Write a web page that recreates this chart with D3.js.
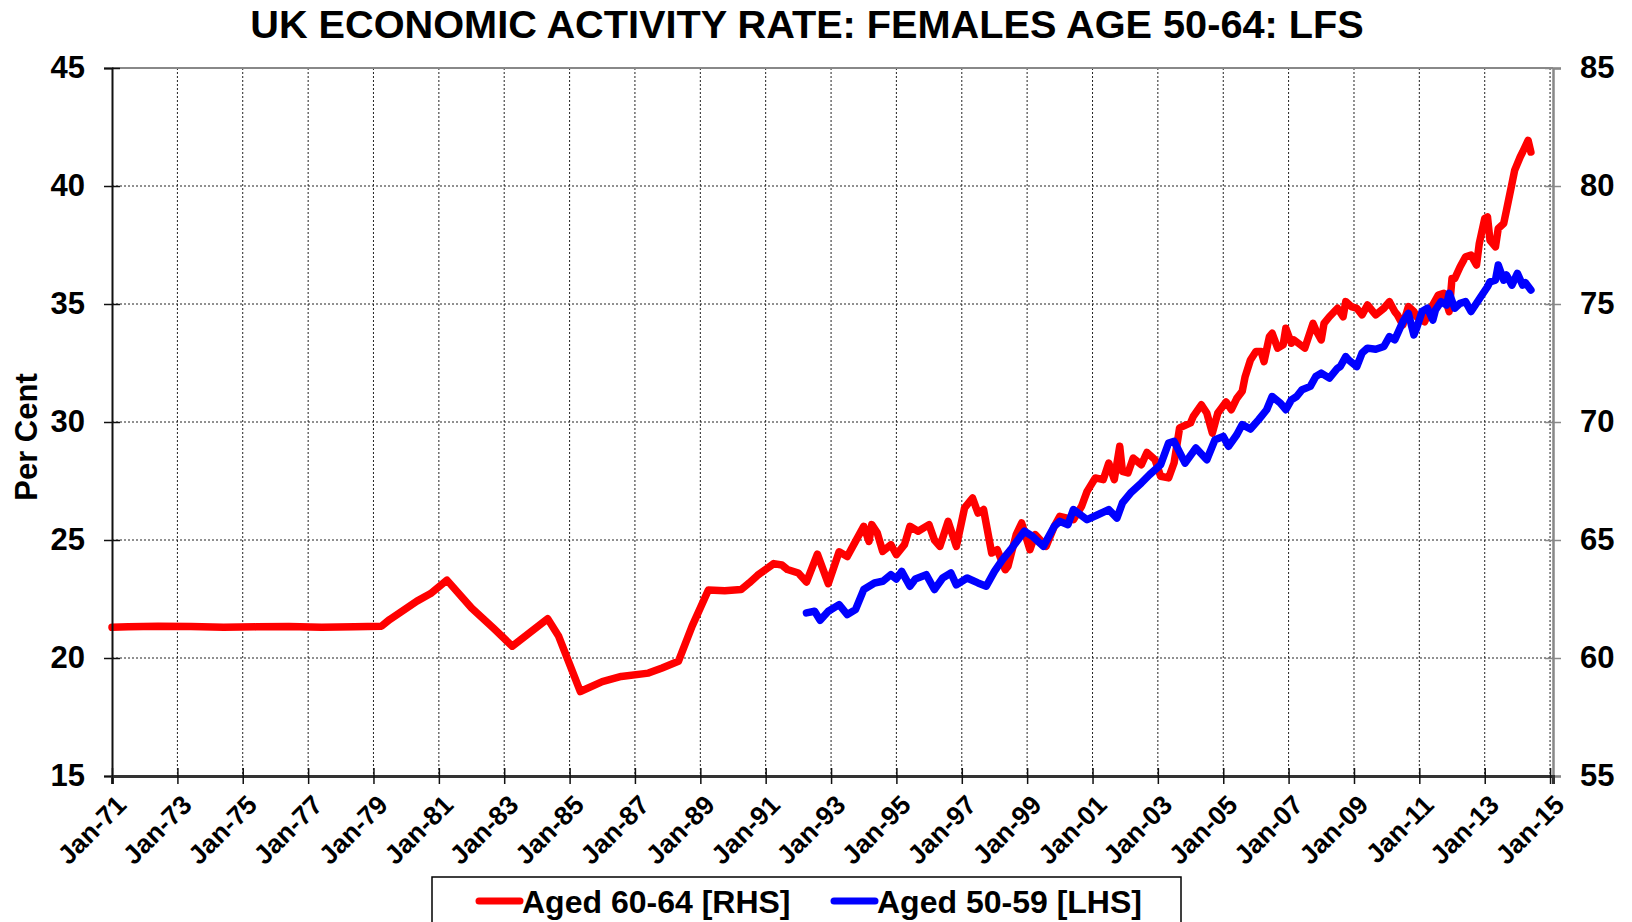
<!DOCTYPE html>
<html>
<head>
<meta charset="utf-8">
<script src="https://cdn.jsdelivr.net/npm/d3@7"></script>
<style>
  body { margin: 0; background: #fff; }
  text { font-family: "Liberation Sans", Arial, sans-serif; font-weight: bold; }
</style>
</head>
<body>
<div id="view"></div>
<script>
// chart data
var xTickYears = [1971,1973,1975,1977,1979,1981,1983,1985,1987,1989,1991,1993,1995,1997,1999,2001,2003,2005,2007,2009,2011,2013,2015];
var leftTicks = [15,20,25,30,35,40,45];
var rightTicks = [55,60,65,70,75,80,85];

// red series, plotted on left scale values
var redDates = ["1971-01","1971-07","1972-06","1973-06","1974-06","1975-06","1976-06","1977-06","1978-06","1979-04","1979-07","1980-05","1980-10","1981-04","1982-01","1982-09","1983-04","1984-05","1984-09","1985-05","1986-01","1986-08","1987-06","1987-11","1988-05","1988-10","1989-04","1989-10","1990-04","1990-07","1990-10","1991-04","1991-07","1991-09","1992-01","1992-04","1992-08","1992-12","1993-04","1993-07","1993-10","1994-01","1994-03","1994-04","1994-06","1994-08","1994-11","1995-01","1995-04","1995-06","1995-09","1996-01","1996-03","1996-05","1996-08","1996-11","1997-02","1997-05","1997-07","1997-09","1997-12","1998-02","1998-05","1998-06","1998-09","1998-11","1999-02","1999-04","1999-08","1999-11","2000-01","2000-06","2000-09","2000-11","2001-02","2001-05","2001-07","2001-09","2001-11","2001-12","2002-02","2002-04","2002-07","2002-09","2002-12","2003-02","2003-05","2003-07","2003-09","2004-01","2004-02","2004-05","2004-07","2004-09","2004-11","2005-02","2005-04","2005-06","2005-08","2005-09","2005-11","2006-01","2006-03","2006-04","2006-06","2006-07","2006-09","2006-11","2006-12","2007-02","2007-03","2007-07","2007-10","2007-11","2008-01","2008-02","2008-04","2008-07","2008-09","2008-10","2008-12","2009-02","2009-04","2009-06","2009-08","2009-09","2009-12","2010-02","2010-04","2010-05","2010-07","2010-09","2010-11","2010-12","2011-03","2011-05","2011-08","2011-10","2011-12","2012-01","2012-02","2012-04","2012-06","2012-08","2012-10","2012-11","2013-01","2013-02","2013-03","2013-05","2013-06","2013-08","2013-09","2013-11","2013-12","2014-02","2014-03","2014-05","2014-06"];
var redValues = [21.3,21.32,21.35,21.33,21.3,21.32,21.33,21.3,21.32,21.35,21.63,22.41,22.73,23.3,22.12,21.27,20.5,21.66,20.92,18.58,19.0,19.22,19.36,19.58,19.86,21.35,22.88,22.85,22.9,23.18,23.5,24.0,23.94,23.75,23.6,23.22,24.4,23.15,24.5,24.3,24.94,25.58,24.94,25.65,25.3,24.52,24.8,24.38,24.8,25.58,25.37,25.65,25.0,24.73,25.79,24.73,26.36,26.78,26.14,26.29,24.45,24.59,23.74,23.88,25.23,25.72,24.59,25.23,24.73,25.58,26.0,25.86,26.43,27.06,27.63,27.56,28.26,27.56,28.97,27.91,27.84,28.47,28.19,28.71,28.4,27.7,27.63,28.26,29.75,29.96,30.24,30.73,30.38,29.53,30.38,30.85,30.52,31.0,31.3,31.9,32.63,32.99,32.99,32.56,33.62,33.76,33.13,33.27,33.97,33.34,33.48,33.13,34.18,33.9,33.48,34.18,34.46,34.82,34.46,35.1,34.89,34.82,34.54,34.96,34.68,34.54,34.82,35.1,34.68,34.54,34.11,34.89,34.68,34.46,34.25,34.75,35.38,35.45,34.68,36.08,36.08,36.58,37.0,37.07,36.65,37.56,38.62,38.69,37.7,37.42,38.2,38.41,38.97,40.1,40.66,41.23,41.44,41.93,41.44];

// blue series, plotted on right scale values
var blueDates = ["1992-04","1992-07","1992-09","1992-12","1993-04","1993-07","1993-10","1994-01","1994-05","1994-08","1994-11","1995-01","1995-03","1995-06","1995-08","1995-12","1996-03","1996-06","1996-09","1996-11","1997-03","1997-07","1997-10","1998-01","1998-04","1998-07","1998-12","1999-03","1999-07","1999-11","2000-01","2000-04","2000-06","2000-11","2001-03","2001-07","2001-10","2001-12","2002-03","2002-07","2002-10","2003-02","2003-05","2003-07","2003-11","2004-03","2004-07","2004-10","2005-01","2005-03","2005-06","2005-08","2005-11","2006-02","2006-05","2006-07","2006-10","2006-12","2007-02","2007-04","2007-06","2007-09","2007-11","2008-01","2008-04","2008-07","2008-08","2008-10","2008-11","2009-02","2009-04","2009-06","2009-09","2009-12","2010-02","2010-04","2010-07","2010-09","2010-11","2010-12","2011-02","2011-04","2011-06","2011-07","2011-09","2011-11","2011-12","2012-02","2012-04","2012-06","2012-08","2012-10","2012-12","2013-02","2013-03","2013-05","2013-06","2013-08","2013-09","2013-11","2014-01","2014-03","2014-04","2014-06"];
var blueValues = [61.91,61.98,61.6,61.98,62.26,61.84,62.05,62.9,63.18,63.25,63.53,63.35,63.67,63.04,63.35,63.53,62.9,63.39,63.6,63.1,63.39,63.18,63.04,63.67,64.17,64.59,65.37,65.16,64.73,65.58,65.79,65.65,66.29,65.86,66.07,66.29,65.93,66.57,66.99,67.42,67.77,68.19,69.11,69.18,68.26,68.9,68.4,69.25,69.39,68.97,69.46,69.89,69.7,70.1,70.52,71.08,70.8,70.52,70.94,71.08,71.37,71.51,71.93,72.07,71.86,72.28,72.35,72.77,72.63,72.35,72.92,73.13,73.08,73.2,73.62,73.48,74.25,74.6,73.69,73.97,74.68,74.82,74.32,74.75,75.1,74.96,75.45,74.82,75.03,75.1,74.68,75.03,75.38,75.73,75.94,76.01,76.65,76.01,76.23,75.8,76.3,75.8,75.9,75.59];

var seriesNames = ["Aged 60-64 [RHS]", "Aged 50-59 [LHS]"];
var seriesColors = ["#ff0000", "#0000ff"];

var W = 1632, H = 922;
var L = 112, R = 1553, T = 68, B = 776;

var svg = d3.select("#view").append("svg")
	.attr("width", W)
	.attr("height", H);

var parse = d3.timeParse("%Y-%m");
var x = d3.scaleTime()
	.domain([new Date(1971, 0, 1), new Date(2015, 1, 3)])
	.range([L, R]);
var yL = d3.scaleLinear().domain([15, 45]).range([B, T]);
var yR = d3.scaleLinear().domain([55, 85]).range([B, T]);

var xTicks = xTickYears.map(function(y){ return new Date(y, 0, 1); });

// gridlines
var grid = svg.append("g");
grid.selectAll(".vg")
	.data(xTicks.slice(1))
   .enter().append("line")
	.attr("x1", function(d){ return x(d); })
	.attr("x2", function(d){ return x(d); })
	.attr("y1", T).attr("y2", B)
	.style("stroke", "#222")
	.style("stroke-width", 1)
	.style("stroke-dasharray", "2,2");
grid.selectAll(".hg")
	.data(leftTicks.slice(1, -1))
   .enter().append("line")
	.attr("x1", L).attr("x2", R)
	.attr("y1", function(d){ return yL(d); })
	.attr("y2", function(d){ return yL(d); })
	.style("stroke", "#222")
	.style("stroke-width", 1)
	.style("stroke-dasharray", "2,2");

// plot border, top in grey
svg.append("line").attr("x1", L).attr("x2", R).attr("y1", T).attr("y2", T)
	.style("stroke", "#888").style("stroke-width", 2);

// lines
var redData = redDates.map(function(d, i){ return {date: parse(d), v: redValues[i]}; });
var blueData = blueDates.map(function(d, i){ return {date: parse(d), v: blueValues[i]}; });

svg.append("path")
	.datum(redData)
	.attr("d", d3.line().x(function(d){ return x(d.date); }).y(function(d){ return yL(d.v); }))
	.style("fill", "none")
	.style("stroke", seriesColors[0])
	.style("stroke-width", 7.5)
	.style("stroke-linejoin", "round")
	.style("stroke-linecap", "round");

svg.append("path")
	.datum(blueData)
	.attr("d", d3.line().x(function(d){ return x(d.date); }).y(function(d){ return yR(d.v); }))
	.style("fill", "none")
	.style("stroke", seriesColors[1])
	.style("stroke-width", 7.5)
	.style("stroke-linejoin", "round")
	.style("stroke-linecap", "round");

// axes
var axL = svg.append("g")
	.attr("transform", "translate(" + L + ",0)")
	.call(d3.axisLeft(yL).tickValues(leftTicks).tickSize(8).tickPadding(19));
var axR = svg.append("g")
	.attr("transform", "translate(" + R + ",0)")
	.call(d3.axisRight(yR).tickValues(rightTicks).tickSize(8).tickPadding(19));
var axB = svg.append("g")
	.attr("transform", "translate(0," + B + ")")
	.call(d3.axisBottom(x).tickValues(xTicks).tickSize(8).tickFormat(d3.timeFormat("%b-%y")));

axL.select(".domain").style("stroke", "#111").style("stroke-width", 2);
axR.select(".domain").style("stroke", "#888").style("stroke-width", 2.5);
axB.select(".domain").style("stroke", "#333").style("stroke-width", 3);
axL.selectAll(".tick line").attr("x1", 8).style("stroke", "#111").style("stroke-width", 1.5);
axR.selectAll(".tick line").attr("x1", -8).style("stroke", "#888").style("stroke-width", 1.5);
axB.selectAll(".tick line").attr("y1", -8).style("stroke", "#111").style("stroke-width", 1.5);

axL.selectAll("text").style("font-size", "31px").style("font-weight", "bold").style("fill", "#000")
	.style("font-family", "'Liberation Sans', Arial, sans-serif");
axR.selectAll("text").style("font-size", "31px").style("font-weight", "bold").style("fill", "#000")
	.style("font-family", "'Liberation Sans', Arial, sans-serif");
axB.selectAll("text")
	.style("font-size", "26.5px").style("font-weight", "bold").style("fill", "#000")
	.style("font-family", "'Liberation Sans', Arial, sans-serif")
	.style("text-anchor", "end")
	.attr("y", 0).attr("dy", "0.72em")
	.attr("transform", "translate(2,17) rotate(-45)");

// title
svg.append("text")
	.attr("x", 807).attr("y", 38)
	.attr("text-anchor", "middle")
	.style("font-size", "39.7px")
	.text("UK ECONOMIC ACTIVITY RATE: FEMALES AGE 50-64: LFS");

// y label
svg.append("text")
	.attr("transform", "translate(37,437) rotate(-90)")
	.attr("text-anchor", "middle")
	.style("font-size", "31px")
	.text("Per Cent");

// legend
var leg = svg.append("g");
leg.append("rect")
	.attr("x", 432).attr("y", 877)
	.attr("width", 749).attr("height", 80)
	.style("fill", "#fff")
	.style("stroke", "#000")
	.style("stroke-width", 1.5);
var legX = [479, 834];
seriesNames.forEach(function(name, i){
	leg.append("line")
		.attr("x1", legX[i]).attr("x2", legX[i] + 41)
		.attr("y1", 901).attr("y2", 901)
		.style("stroke", seriesColors[i])
		.style("stroke-width", 7)
		.style("stroke-linecap", "round");
	leg.append("text")
		.attr("x", legX[i] + 43).attr("y", 913)
		.style("font-size", "32px")
		.text(name);
});
</script>
</body>
</html>
